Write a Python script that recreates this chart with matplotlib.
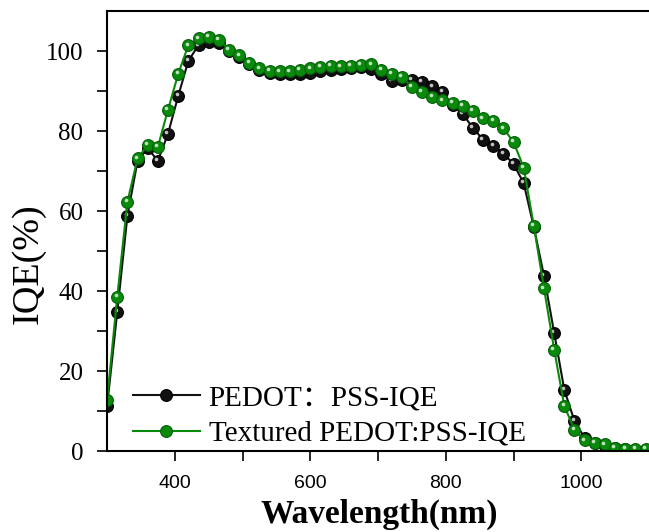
import numpy as np
import matplotlib
matplotlib.use("Agg")
import matplotlib.pyplot as plt
from matplotlib.transforms import offset_copy

# %% data
wavelength = [300, 315, 330, 345, 360, 375, 390, 405, 420, 435, 450, 465, 480, 495,
              510, 525, 540, 555, 570, 585, 600, 615, 630, 645, 660, 675, 690, 705,
              720, 735, 750, 765, 780, 795, 810, 825, 840, 855, 870, 885, 900, 915,
              930, 945, 960, 975, 990, 1005, 1020, 1035, 1050, 1065, 1080, 1095]

iqe_pedot = [11.3, 34.8, 58.8, 72.6, 75.7, 72.6, 79.4, 88.8, 97.6, 101.5, 102.3, 102.0, 100.0, 98.5,
             96.8, 95.3, 94.6, 94.3, 94.2, 94.2, 94.5, 95.0, 95.3, 95.6, 95.8, 96.0, 95.6, 94.2,
             92.6, 92.9, 92.8, 92.3, 91.2, 89.8, 86.5, 84.3, 80.8, 77.9, 76.4, 74.4, 71.8, 67.0,
             56.0, 43.8, 29.6, 15.3, 7.5, 3.3, 2.0, 1.2, 0.8, 0.5, 0.4, 0.4]

iqe_textured = [12.7, 38.6, 62.3, 73.2, 76.5, 76.1, 85.4, 94.3, 101.5, 103.2, 103.6, 102.8, 100.4, 99.0,
                97.1, 95.7, 95.1, 95.0, 95.0, 95.3, 95.7, 96.1, 96.3, 96.2, 96.4, 96.6, 96.7, 95.3,
                94.4, 93.6, 91.1, 89.8, 88.6, 87.7, 87.0, 86.4, 85.1, 83.2, 82.6, 80.7, 77.3, 70.9,
                56.3, 40.7, 25.4, 11.3, 5.3, 2.7, 2.1, 1.7, 0.9, 0.6, 0.5, 0.6]

labels = ["PEDOT\uff1aPSS-IQE", "Textured PEDOT:PSS-IQE"]
colors = ["#111111", "#0a8a0a"]
edges = ["#000000", "#05600a"]

serif = ["Liberation Serif", "Noto Sans CJK SC"]

# %% figure
fig = plt.figure(figsize=(6.49, 5.32), dpi=100)
ax = fig.add_axes([0.165, 0.152, 0.835, 0.827])

for y, lab, c, ec in zip([iqe_pedot, iqe_textured], labels, colors, edges):
    ax.plot(wavelength, y, "-o", color=c, lw=1.5, ms=8.5, mfc=c, mec=ec, mew=0.8,
            label=lab)
    # small highlight to mimic the shaded spheres
    tr = offset_copy(ax.transData, fig=fig, x=-1.2, y=1.2, units="points")
    ax.plot(wavelength, y, "o", ls="none", ms=2.6, mfc="white", mec="none",
            alpha=0.75, transform=tr)

ax.set_xlim(300, 1100)
ax.set_ylim(0, 110)
ax.set_xticks([400, 600, 800, 1000])
ax.set_xticks([500, 700, 900], minor=True)
ax.set_yticks([0, 20, 40, 60, 80, 100])
ax.set_yticks([10, 30, 50, 70, 90], minor=True)
ax.tick_params(which="both", direction="out", length=7, width=1.2)
ax.tick_params(axis="x", pad=10)
ax.tick_params(axis="y", pad=10)
ax.spines["right"].set_visible(False)
for s in ["left", "bottom", "top"]:
    ax.spines[s].set_linewidth(1.5)

for t in ax.get_xticklabels():
    t.set_fontfamily("Liberation Sans"); t.set_fontsize(14)
for t in ax.get_yticklabels():
    t.set_fontfamily(serif); t.set_fontsize(18)

fig.text(0.585, 0.017, "Wavelength(nm)", family=serif, fontsize=24, fontweight="bold",
         ha="center", va="baseline")
fig.text(0.044, 0.505, "IQE(%)", family=serif, fontsize=27.5, rotation=90,
         ha="center", va="center")

leg = ax.legend(loc="lower left", bbox_to_anchor=(0.015, -0.03), frameon=False,
                prop={"family": serif, "size": 21}, handlelength=2.3,
                handletextpad=0.3, labelspacing=0.32, borderaxespad=0.2)

plt.savefig("out.png", dpi=100)
